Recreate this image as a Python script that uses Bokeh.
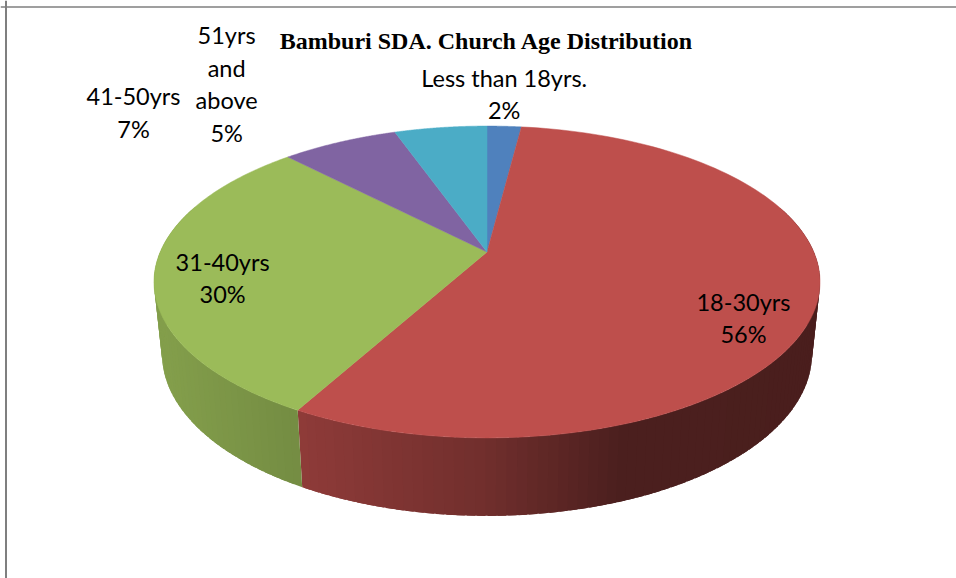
import numpy as np
from bokeh.plotting import figure
from bokeh.models import Span, ColumnDataSource
from bokeh.core.properties import value
from bokeh.embed import file_html
from bokeh.resources import INLINE

# ---- chart data ----
title = "Bamburi SDA. Church Age Distribution"
categories = ["Less than 18yrs.", "18-30yrs", "31-40yrs", "41-50yrs", "51yrs and above"]
shares = [2.0, 56.0, 29.8, 6.8, 5.4]
percent_labels = ["2%", "56%", "30%", "7%", "5%"]
label_lines = [["Less than 18yrs.", "2%"], ["18-30yrs", "56%"], ["31-40yrs", "30%"],
               ["41-50yrs", "7%"], ["51yrs", "and", "above", "5%"]]

# ---- styles ----
colors = ["#4F81BD", "#BE4F4C", "#9BBB59", "#8064A2", "#4BACC6"]
label_dx = [0, -74, 68, -206, -214]
label_dy = [-32.5, 16.5, 5.5, -29.5, -43.5]
LINE_H = 32.5

# ---- perspective projection of the pie disc ----
CX, APEX_Y = 486.5, 251.5
PERSP, V_A, U_A = 0.1923, -101.8, 326.8
TOP_CY = 281.5
BOT_CY, K_X, K_Y = 353.5, 325.0 / 333.0, 162.0 / 156.0


def project(theta):
    u, v = np.sin(theta), np.cos(theta)
    d = 1 + PERSP * v
    return CX + U_A * u / d, (V_A * v + APEX_Y) / d


def project_bottom(theta):
    x, y = project(theta)
    return CX + K_X * (x - CX), BOT_CY + K_Y * (y - TOP_CY)


def shade(hex_color, x):
    m = np.interp(x, [160, 300, 480, 620, 820], [0.85, 0.75, 0.60, 0.40, 0.39])
    rgb = [int(hex_color[i:i + 2], 16) for i in (1, 3, 5)]
    return "#%02x%02x%02x" % tuple(int(c * m) for c in rgb)


p = figure(width=956, height=578, x_range=(0, 956), y_range=(578, 0),
           output_backend="svg", toolbar_location=None, min_border=0,
           margin=(0, 0, 0, 0))
p.axis.visible = False
p.grid.visible = False
p.outline_line_color = None
p.background_fill_color = "white"

p.add_layout(Span(location=5.5, dimension="height", line_color="#7f7f7f", line_width=2))
p.add_layout(Span(location=6.6, dimension="width", line_color="#7f7f7f", line_width=1.5))

edges = np.cumsum([0.0] + shares) / sum(shares) * 2 * np.pi

# side wall, built as overlapping strips so that the shading runs across it
sx, sy, sc = [], [], []
for i, col in enumerate(colors):
    n = max(2, int(np.degrees(edges[i + 1] - edges[i]) / 1.5))
    t = np.linspace(edges[i], edges[i + 1], n + 1)
    step = t[1] - t[0]
    for a in t[:-1]:
        b = min(a + step * 1.8, edges[i + 1])
        if np.cos(a + step / 2) > 0.3:
            continue
        xa, ya = project(a)
        xb, yb = project(b)
        xc, yc = project_bottom(b)
        xd, yd = project_bottom(a)
        sx.append([xa, xb, xc, xd])
        sy.append([ya, yb, yc, yd])
        sc.append(shade(col, (xa + project(a + step)[0]) / 2))
p.patches("x", "y", source=ColumnDataSource(dict(x=sx, y=sy, c=sc)),
          fill_color="c", line_color=None)

# top face
fx, fy = [], []
for i in range(len(shares)):
    t = np.linspace(edges[i], edges[i + 1], 120)
    x, y = project(t)
    fx.append([CX] + list(x))
    fy.append([APEX_Y] + list(y))
p.patches("x", "y", source=ColumnDataSource(dict(x=fx, y=fy, c=colors)),
          fill_color="c", line_color="c", line_width=0.5)

# data labels
tx, ty, tt = [], [], []
for i, lines in enumerate(label_lines):
    mid = (edges[i] + edges[i + 1]) / 2
    ax, ay = project(mid)
    ax, ay = ax + label_dx[i], ay + label_dy[i]
    top = ay - LINE_H * (len(lines) - 1) / 2
    for j, s in enumerate(lines):
        tx.append(ax)
        ty.append(top + j * LINE_H)
        tt.append(s)
p.text("x", "y", text="t", source=ColumnDataSource(dict(x=tx, y=ty, t=tt)),
       text_font=value("Lato"), text_font_size="23.5px", text_color="black",
       text_align="center", text_baseline="middle")

p.text([486], [40], text=[title], text_font=value("Liberation Serif"),
       text_font_style="bold", text_font_size="24px", text_color="black",
       text_align="center", text_baseline="middle")

open("out.html", "w").write(file_html(p, INLINE))
